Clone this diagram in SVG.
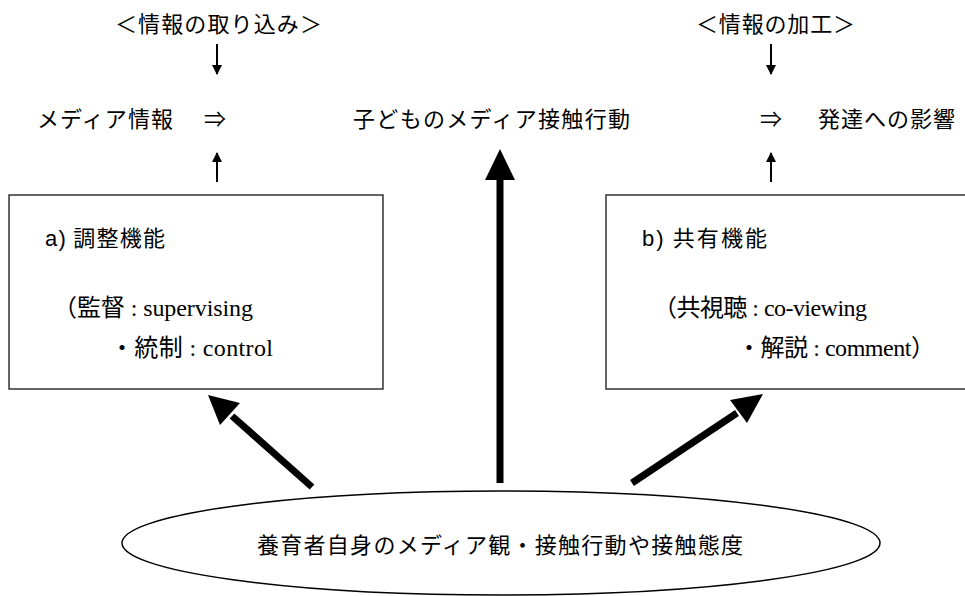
<svg xmlns="http://www.w3.org/2000/svg" width="965" height="596" viewBox="0 0 965 596">
<style>
.jp{font-family:"Noto Sans CJK JP","Noto Sans",sans-serif;font-size:22px;fill:#000}
.mix{font-family:"Liberation Serif","Noto Sans CJK JP",serif;font-size:24px;fill:#000}
.box{fill:#fff;stroke:#333;stroke-width:1.5}
.thin{stroke:#000;stroke-width:2;fill:none}
.thick{stroke:#000;stroke-width:7;fill:none}
.head{fill:#000}
</style>
<defs>
<marker id="sa" viewBox="0 0 10 10" refX="9" refY="5" markerWidth="5" markerHeight="5" orient="auto" markerUnits="strokeWidth">
<path d="M0,0 L10,5 L0,10 Z" fill="#000"/>
</marker>
</defs>
<rect width="965" height="596" fill="#fff"/>

<g id="label-intake"><text class="jp" x="115" y="32" textLength="207" lengthAdjust="spacing">＜情報の取り込み＞</text></g>
<g id="label-process"><text class="jp" x="696" y="32" textLength="159" lengthAdjust="spacing">＜情報の加工＞</text></g>
<g id="media-info"><text class="jp" x="37" y="127" textLength="136" lengthAdjust="spacing">メディア情報</text><text class="jp" x="204" y="127">⇒</text></g>
<g id="child-behavior"><text class="jp" x="353" y="127" textLength="277" lengthAdjust="spacing">子どものメディア接触行動</text></g>
<g id="development"><text class="jp" x="760" y="127">⇒</text><text class="jp" x="818" y="127" textLength="137" lengthAdjust="spacing">発達への影響</text></g>

<g id="box-a">
<rect class="box" x="9" y="195" width="374" height="194"/>
<text class="jp" x="45" y="246" textLength="120" lengthAdjust="spacing"><tspan font-family="Liberation Sans">a)</tspan> 調整機能</text>
<text class="mix" x="53" y="316" textLength="200" lengthAdjust="spacing">（監督 : supervising</text>
<text class="mix" x="110" y="356" textLength="163" lengthAdjust="spacing">・統制 : control</text>
</g>

<g id="box-b">
<rect class="box" x="606" y="195" width="370" height="194"/>
<text class="jp" x="642" y="246" textLength="125" lengthAdjust="spacing"><tspan font-family="Liberation Sans">b)</tspan>  共有機能</text>
<text class="mix" x="653" y="316" textLength="214" lengthAdjust="spacing">（共視聴 : co-viewing</text>
<text class="mix" x="737" y="356" textLength="198" lengthAdjust="spacing">・解説 : comment）</text>
</g>

<g id="caregiver">
<ellipse cx="501" cy="543" rx="379" ry="52" fill="#fff" stroke="#000" stroke-width="1.5"/>
<text class="jp" x="257" y="553" textLength="486" lengthAdjust="spacing">養育者自身のメディア観・接触行動や接触態度</text>
</g>

<g id="connectors">
<line class="thin" x1="217" y1="44" x2="217" y2="74" marker-end="url(#sa)"/>
<line class="thin" x1="217" y1="182" x2="217" y2="153" marker-end="url(#sa)"/>
<line class="thin" x1="771" y1="44" x2="771" y2="74" marker-end="url(#sa)"/>
<line class="thin" x1="771" y1="182" x2="771" y2="153" marker-end="url(#sa)"/>
<line class="thick" x1="500" y1="483" x2="500" y2="178"/>
<polygon class="head" points="500,149 485,180 515,180"/>
<line class="thick" x1="312" y1="487" x2="232" y2="416"/>
<polygon class="head" points="208,395 240,403 220,425"/>
<line class="thick" x1="632" y1="483" x2="737" y2="413"/>
<polygon class="head" points="763,394 730,400 747,423"/>
</g>
</svg>
